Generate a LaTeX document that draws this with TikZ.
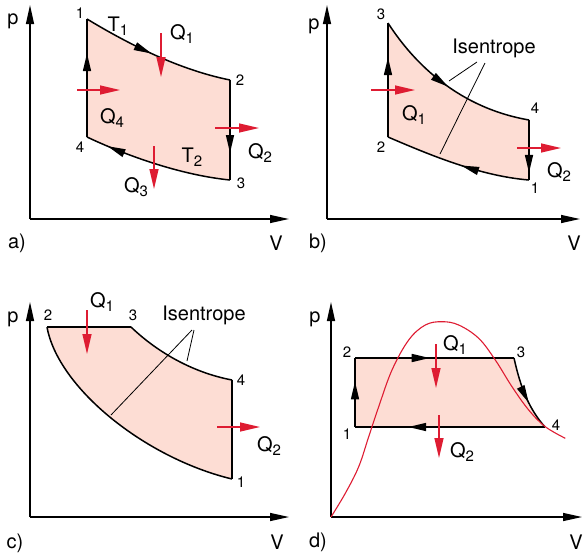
\documentclass[tikz,border=0pt]{standalone}
\usepackage{fontspec}
\setmainfont{TeX Gyre Heros}
\usetikzlibrary{arrows.meta,decorations.markings}
\definecolor{pinkf}{RGB}{253,221,212}
\definecolor{redc}{RGB}{222,28,50}
\newcommand\sbx[1]{\raisebox{-4.5pt}{\fontsize{15}{15}\selectfont #1}}
\tikzset{
  blackhead/.tip={Triangle[length=18pt,width=8pt]},
  axis/.style={line width=1.3pt,-{Triangle[length=19pt,width=8pt]}},
  cycfill/.style={fill=pinkf},
  edge/.style={line width=1.5pt,line join=round},
  midarr/.style={postaction={decorate,decoration={markings,mark=at position #1 with {\arrow{blackhead}}}}},
  redarr/.style={draw=redc,line width=1.3pt,-{Triangle[length=20pt,width=9pt]}},
  lead/.style={line width=0.8pt},
  lbl/.style={inner sep=0pt,font=\fontsize{20}{20}\selectfont},
  num/.style={inner sep=0pt,font=\fontsize{15}{15}\selectfont},
}
\begin{document}
\begin{tikzpicture}[x=1pt,y=-1pt]
\useasboundingbox (0,0) rectangle (584,555);
% ================= panel a =================
\coordinate (oa) at (30,219);
\coordinate (xa) at (289,219);
\coordinate (ya) at (30,5);
\coordinate (a1) at (87,19);
\coordinate (a2) at (230,80);
\coordinate (a3) at (230,180);
\coordinate (a4) at (87,137);
\fill[cycfill] (a1) .. controls (130,45) and (180,70) .. (a2) -- (a3) .. controls (180,175) and (125,155) .. (a4) -- cycle;
\draw[edge,midarr=0.47] (a1) .. controls (130,45) and (180,70) .. (a2);
\draw[edge,midarr=0.73] (a2) -- (a3);
\draw[edge,midarr=0.85] (a3) .. controls (180,175) and (125,155) .. (a4);
\draw[edge,midarr=0.71] (a4) -- (a1);
\draw[axis] (oa) -- (xa);
\draw[axis] (oa) -- (ya);
\coordinate (q1s) at (161,33); \coordinate (q1e) at (161,77);
\coordinate (q4s) at (77,90); \coordinate (q4e) at (120,90);
\coordinate (q2s) at (215,128); \coordinate (q2e) at (259,128);
\coordinate (q3s) at (154,146); \coordinate (q3e) at (154,189);
\draw[redarr] (q1s) -- (q1e);
\draw[redarr] (q4s) -- (q4e);
\draw[redarr] (q2s) -- (q2e);
\draw[redarr] (q3s) -- (q3e);
\node[num] (na1) at (80,13) {1};
\node[num] (na2) at (240,80) {2};
\node[num] (na3) at (241,183) {3};
\node[num] (na4) at (80,147) {4};
\node[lbl] (ta1) at (118,26) {T\sbx{1}};
\node[lbl] (qa1) at (182,34) {Q\sbx{1}};
\node[lbl] (qa4) at (112,118) {Q\sbx{4}};
\node[lbl] (qa2) at (260,153) {Q\sbx{2}};
\node[lbl] (ta2) at (192,157) {T\sbx{2}};
\node[lbl] (qa3) at (136,187) {Q\sbx{3}};
\node[lbl] (pa) at (13,21) {p};
\node[lbl] (la) at (17,243) {a)};
\node[lbl] (va) at (276,243) {V};
% ================= panel b =================
\coordinate (ob) at (327,219);
\coordinate (xb) at (580,219);
\coordinate (yb) at (327,5);
\coordinate (b1) at (529,180);
\coordinate (b2) at (388,137);
\coordinate (b3) at (388,23);
\coordinate (b4) at (529,120);
\fill[cycfill] (b2) -- (b3) .. controls (415,65) and (460,108) .. (b4) -- (b1) .. controls (480,176) and (430,155) .. (b2) -- cycle;
\draw[edge,midarr=0.70] (b2) -- (b3);
\draw[edge,midarr=0.50] (b3) .. controls (415,65) and (460,108) .. (b4);
\draw[edge,midarr=0.88] (b4) -- (b1);
\draw[edge,midarr=0.47] (b1) .. controls (480,176) and (430,155) .. (b2);
\draw[axis] (ob) -- (xb);
\draw[axis] (ob) -- (yb);
\coordinate (bl1s) at (477,62); \coordinate (bl1e) at (449,81);
\coordinate (bl2s) at (485,63); \coordinate (bl2e) at (440,154);
\draw[lead] (bl1s) -- (bl1e);
\draw[lead] (bl2s) -- (bl2e);
\coordinate (bq1s) at (371,90); \coordinate (bq1e) at (415,90);
\coordinate (bq2s) at (517,148); \coordinate (bq2e) at (561,148);
\draw[redarr] (bq1s) -- (bq1e);
\draw[redarr] (bq2s) -- (bq2e);
\node[num] (nb3) at (381,14) {3};
\node[num] (nb4) at (535,108) {4};
\node[num] (nb2) at (381,147) {2};
\node[num] (nb1) at (535,188) {1};
\node[lbl] (isb) at (494,48) {Isentrope};
\node[lbl] (qb1) at (414,115) {Q\sbx{1}};
\node[lbl] (qb2) at (559,172) {Q\sbx{2}};
\node[lbl] (pb) at (314,26) {p};
\node[lbl] (lb) at (318,243) {b)};
\node[lbl] (vb) at (574,243) {V};
% ================= panel c =================
\coordinate (oc) at (30,517);
\coordinate (xc) at (289,517);
\coordinate (yc) at (30,302);
\coordinate (c1) at (232,479);
\coordinate (c2) at (47,327);
\coordinate (c3) at (131,327);
\coordinate (c4) at (232,380);
\fill[cycfill] (c2) -- (c3) .. controls (155,350) and (190,372) .. (c4) -- (c1) .. controls (145,458) and (58,388) .. (c2) -- cycle;
\draw[edge] (c2) -- (c3);
\draw[edge] (c3) .. controls (155,350) and (190,372) .. (c4);
\draw[edge] (c4) -- (c1);
\draw[edge] (c1) .. controls (145,458) and (58,388) .. (c2);
\draw[axis] (oc) -- (xc);
\draw[axis] (oc) -- (yc);
\coordinate (cl1s) at (192,330); \coordinate (cl1e) at (111,415);
\coordinate (cl2s) at (194,330); \coordinate (cl2e) at (187,361);
\draw[lead] (cl1s) -- (cl1e);
\draw[lead] (cl2s) -- (cl2e);
\coordinate (cq1s) at (87,310); \coordinate (cq1e) at (87,354);
\coordinate (cq2s) at (217,427); \coordinate (cq2e) at (260,427);
\draw[redarr] (cq1s) -- (cq1e);
\draw[redarr] (cq2s) -- (cq2e);
\node[num] (nc2) at (48,315) {2};
\node[num] (nc3) at (133,315) {3};
\node[num] (nc4) at (241,380) {4};
\node[num] (nc1) at (241,482) {1};
\node[lbl] (isc) at (204,315) {Isentrope};
\node[lbl] (qc1) at (102,302) {Q\sbx{1}};
\node[lbl] (qc2) at (269,446) {Q\sbx{2}};
\node[lbl] (pc) at (13,319) {p};
\node[lbl] (lc) at (15,543) {c)};
\node[lbl] (vc) at (277,542) {V};
% ================= panel d =================
\coordinate (od) at (331,517);
\coordinate (xd) at (582,517);
\coordinate (yd) at (331,302);
\coordinate (d1) at (355,427);
\coordinate (d2) at (355,358);
\coordinate (d3) at (514,358);
\coordinate (d4) at (545,427);
\fill[cycfill] (d1) -- (d2) -- (d3) .. controls (521,390) and (530,410) .. (d4) -- cycle;
\draw[edge,midarr=0.66] (d1) -- (d2);
\draw[edge,midarr=0.47] (d2) -- (d3);
\draw[edge,midarr=0.62] (d3) .. controls (521,390) and (530,410) .. (d4);
\draw[edge,midarr=0.72] (d4) -- (d1);
\draw[axis] (od) -- (xd);
\draw[axis] (od) -- (yd);
\coordinate (dq1s) at (436,344); \coordinate (dq1e) at (436,388);
\coordinate (dq2s) at (439,415); \coordinate (dq2e) at (439,458);
\draw[redarr] (dq1s) -- (dq1e);
\draw[redarr] (dq2s) -- (dq2e);
\draw[redc,line width=1.1pt] plot[smooth,tension=0.6] coordinates {(331,517) (345.3,493.3) (358.7,466.7) (368.7,436.7) (378.7,406.7) (392,370) (408.7,340) (425.3,325) (442,321.7) (458.7,325) (478.7,338.3) (495.3,360) (512,386.7) (528.7,410) (545.3,426.7) (565.3,438.3)};
\node[num] (nd2) at (347,352) {2};
\node[num] (nd3) at (521,352) {3};
\node[num] (nd1) at (347,434) {1};
\node[num] (nd4) at (556,425) {4};
\node[lbl] (qd1) at (455,345) {Q\sbx{1}};
\node[lbl] (qd2) at (462,452) {Q\sbx{2}};
\node[lbl] (pd) at (315,319) {p};
\node[lbl] (ld) at (318,542) {d)};
\node[lbl] (vd) at (576,542) {V};
\end{tikzpicture}
\end{document}
